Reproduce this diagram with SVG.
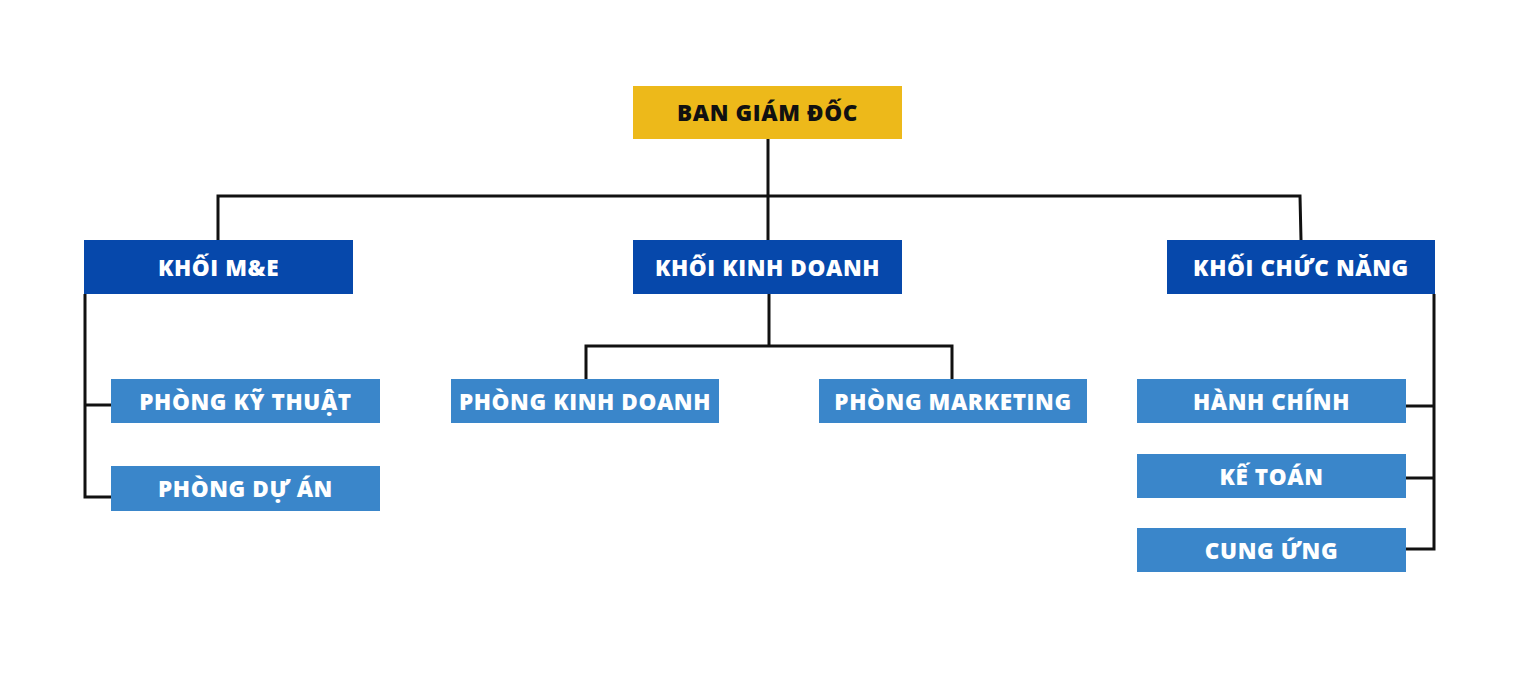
<svg xmlns="http://www.w3.org/2000/svg" width="1536" height="692" viewBox="0 0 1536 692">
<style>
.bg{fill:#ffffff}
.top{fill:#EDB91A}
.blk{fill:#0648AB}
.dep{fill:#3A86CA}
.t{font-family:"Open Sans","Liberation Sans",sans-serif;font-weight:800;font-size:22.5px;letter-spacing:0.6px;text-anchor:middle;dominant-baseline:central}
.tk{fill:#111111}
.tw{fill:#ffffff}
.ln{fill:none;stroke:#111111;stroke-width:3;stroke-linejoin:miter}
</style>
<rect class="bg" x="0" y="0" width="1536" height="692"/>
<g id="connectors">
<path class="ln" d="M768,139 V196"/>
<path class="ln" d="M218,240 V196 H1300 L1301,240"/>
<path class="ln" d="M768,196 V240"/>
<path class="ln" d="M85,294 V497 H111"/>
<path class="ln" d="M85,405 H111"/>
<path class="ln" d="M769,294 V346"/>
<path class="ln" d="M586,379 V346 H952 V379"/>
<path class="ln" d="M1434,294 V549 H1406"/>
<path class="ln" d="M1434,406 H1406"/>
<path class="ln" d="M1434,478 H1406"/>
</g>
<g id="ban-giam-doc"><rect class="top" x="633" y="86" width="269" height="53"/><text class="t tk" x="767.5" y="112.5">BAN GIÁM ĐỐC</text></g>
<g id="khoi-me"><rect class="blk" x="84" y="240" width="269" height="54"/><text class="t tw" x="218.5" y="267">KHỐI M&amp;E</text></g>
<g id="khoi-kinh-doanh"><rect class="blk" x="633" y="240" width="269" height="54"/><text class="t tw" x="767.5" y="267">KHỐI KINH DOANH</text></g>
<g id="khoi-chuc-nang"><rect class="blk" x="1167" y="240" width="268" height="54"/><text class="t tw" x="1301" y="267">KHỐI CHỨC NĂNG</text></g>
<g id="phong-ky-thuat"><rect class="dep" x="111" y="379" width="269" height="44"/><text class="t tw" x="245.5" y="401">PHÒNG KỸ THUẬT</text></g>
<g id="phong-du-an"><rect class="dep" x="111" y="466" width="269" height="45"/><text class="t tw" x="245.5" y="488.5">PHÒNG DỰ ÁN</text></g>
<g id="phong-kinh-doanh"><rect class="dep" x="451" y="379" width="268" height="44"/><text class="t tw" x="585" y="401">PHÒNG KINH DOANH</text></g>
<g id="phong-marketing"><rect class="dep" x="819" y="379" width="268" height="44"/><text class="t tw" x="953" y="401">PHÒNG MARKETING</text></g>
<g id="hanh-chinh"><rect class="dep" x="1137" y="379" width="269" height="44"/><text class="t tw" x="1271.5" y="401">HÀNH CHÍNH</text></g>
<g id="ke-toan"><rect class="dep" x="1137" y="454" width="269" height="44"/><text class="t tw" x="1271.5" y="476">KẾ TOÁN</text></g>
<g id="cung-ung"><rect class="dep" x="1137" y="528" width="269" height="44"/><text class="t tw" x="1271.5" y="550">CUNG ỨNG</text></g>
</svg>
